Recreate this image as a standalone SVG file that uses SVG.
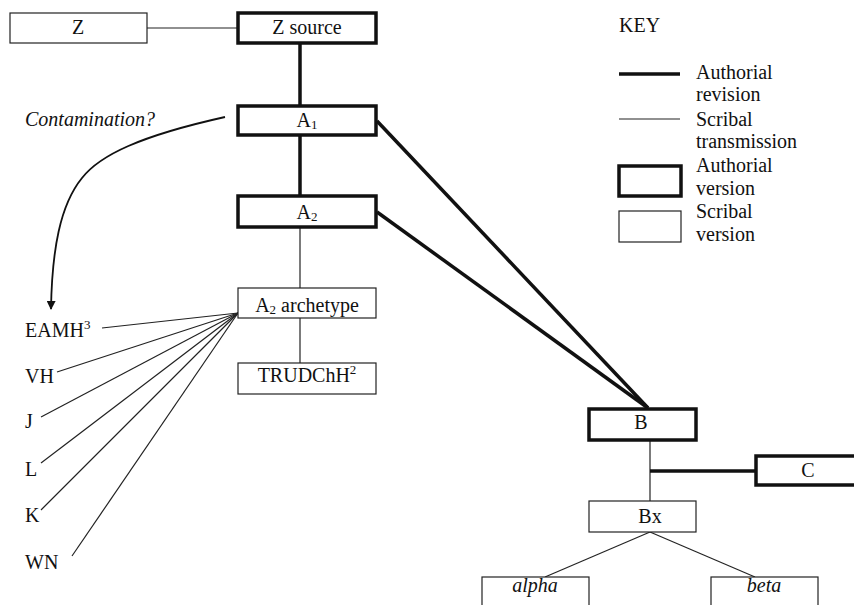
<svg xmlns="http://www.w3.org/2000/svg" width="854" height="605" viewBox="0 0 854 605" font-family="Liberation Serif" font-size="20">
<style>
text{fill:#111}
.c{text-anchor:middle}
.i{font-style:italic}
.auth{fill:#fff;stroke:#111;stroke-width:3.5}
.scr{fill:#fff;stroke:#222;stroke-width:1.2}
.thick{stroke:#111;stroke-width:3.5;fill:none}
.thin{stroke:#222;stroke-width:1.2;fill:none}
.sub{font-size:13px}
</style>
<defs>
<marker id="ah" viewBox="0 0 10 10" refX="9" refY="5" markerWidth="9" markerHeight="9" markerUnits="userSpaceOnUse" orient="auto">
<path d="M0,0 L10,5 L0,10 z" fill="#111"/>
</marker>
</defs>
<g id="connectors">
<line class="thin" x1="147" y1="28" x2="238" y2="28"/>
<line class="thick" x1="300" y1="43" x2="300" y2="106"/>
<line class="thick" x1="300" y1="135" x2="300" y2="196"/>
<line class="thin" x1="300" y1="228" x2="300" y2="288"/>
<line class="thin" x1="300" y1="318" x2="300" y2="363"/>
<line class="thick" x1="377" y1="121" x2="648" y2="408"/>
<line class="thick" x1="377" y1="212" x2="648" y2="408"/>
<line class="thin" x1="650" y1="440" x2="650" y2="501"/>
<line class="thick" x1="650" y1="471" x2="756" y2="471"/>
<line class="thin" x1="650" y1="532" x2="545" y2="577"/>
<line class="thin" x1="650" y1="532" x2="755" y2="577"/>
<line class="thin" x1="238" y1="313" x2="102" y2="328"/>
<line class="thin" x1="238" y1="313" x2="57" y2="372"/>
<line class="thin" x1="238" y1="313" x2="41" y2="417"/>
<line class="thin" x1="238" y1="313" x2="41" y2="463"/>
<line class="thin" x1="238" y1="313" x2="41" y2="510"/>
<line class="thin" x1="238" y1="313" x2="72" y2="556"/>
<path d="M225,117 C140,136 100,155 82,178 C60,205 52,250 51,309" stroke="#111" stroke-width="1.8" fill="none" marker-end="url(#ah)"/>
</g>
<text font-family="Liberation Serif" class="i" x="25" y="126">Contamination?</text>
<g id="Z"><rect class="scr" x="10" y="13" width="137" height="30"/><text font-family="Liberation Serif" class="c" x="78" y="34">Z</text></g>
<g id="Zsource"><rect class="auth" x="238" y="13" width="138" height="30"/><text font-family="Liberation Serif" class="c" x="307" y="34">Z source</text></g>
<g id="A1"><rect class="auth" x="238" y="106" width="138" height="29"/><text font-family="Liberation Serif" class="c" x="307" y="127">A<tspan class="sub" dy="2">1</tspan></text></g>
<g id="A2"><rect class="auth" x="238" y="196" width="138" height="31"/><text font-family="Liberation Serif" class="c" x="307" y="219">A<tspan class="sub" dy="2">2</tspan></text></g>
<g id="A2arch"><rect class="scr" x="238" y="288" width="138" height="30"/><text font-family="Liberation Serif" class="c" x="307" y="312">A<tspan class="sub" dy="2">2</tspan><tspan dy="-2"> archetype</tspan></text></g>
<g id="TRUD"><rect class="scr" x="238" y="363" width="138" height="31"/><text font-family="Liberation Serif" class="c" x="307" y="382">TRUDChH<tspan class="sub" dy="-8">2</tspan></text></g>
<g id="EAMH"><text font-family="Liberation Serif" x="25" y="337">EAMH<tspan class="sub" dy="-8">3</tspan></text></g>
<g id="VH"><text font-family="Liberation Serif" x="25" y="383">VH</text></g>
<g id="J"><text font-family="Liberation Serif" x="25" y="428">J</text></g>
<g id="L"><text font-family="Liberation Serif" x="25" y="476">L</text></g>
<g id="K"><text font-family="Liberation Serif" x="25" y="522">K</text></g>
<g id="WN"><text font-family="Liberation Serif" x="25" y="569">WN</text></g>
<g id="B"><rect class="auth" x="589" y="409" width="107" height="31"/><text font-family="Liberation Serif" class="c" x="641" y="429">B</text></g>
<g id="C"><rect class="auth" x="756" y="456" width="110" height="29"/><text font-family="Liberation Serif" class="c" x="808" y="477">C</text></g>
<g id="Bx"><rect class="scr" x="589" y="501" width="107" height="31"/><text font-family="Liberation Serif" class="c" x="650" y="523">Bx</text></g>
<g id="alpha"><rect class="scr" x="482" y="577" width="107" height="40"/><text font-family="Liberation Serif" class="c i" x="535" y="592">alpha</text></g>
<g id="beta"><rect class="scr" x="711" y="577" width="107" height="40"/><text font-family="Liberation Serif" class="c i" x="764" y="592">beta</text></g>
<g id="key">
<text font-family="Liberation Serif" x="619" y="32">KEY</text>
<line class="thick" x1="619" y1="74" x2="680" y2="74"/>
<text font-family="Liberation Serif" x="696" y="79">Authorial</text><text font-family="Liberation Serif" x="696" y="101">revision</text>
<line class="thin" x1="619" y1="119" x2="680" y2="119"/>
<text font-family="Liberation Serif" x="696" y="126">Scribal</text><text font-family="Liberation Serif" x="696" y="148">transmission</text>
<rect class="auth" x="619" y="166" width="62" height="30"/>
<text font-family="Liberation Serif" x="696" y="172">Authorial</text><text font-family="Liberation Serif" x="696" y="195">version</text>
<rect class="scr" x="619" y="211" width="62" height="31"/>
<text font-family="Liberation Serif" x="696" y="218">Scribal</text><text font-family="Liberation Serif" x="696" y="241">version</text>
</g>
</svg>
